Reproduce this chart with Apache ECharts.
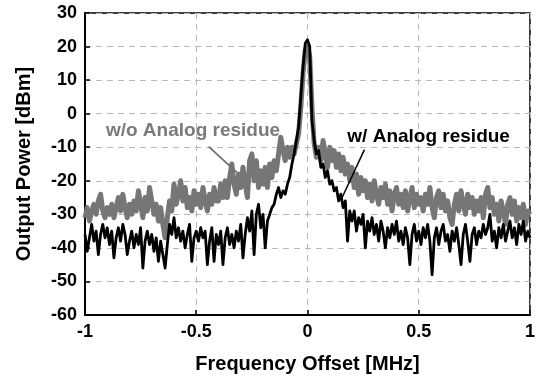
<!DOCTYPE html>
<html><head><meta charset="utf-8">
<script src="https://cdn.jsdelivr.net/npm/echarts/dist/echarts.min.js"></script>
<style>html,body{margin:0;padding:0;background:#fff}#c{width:538px;height:379px}</style>
</head><body><div id="c"></div>
<script>
// Frequency grid (MHz): -1 .. 1 in 0.01 steps
const freqStart = -1, freqStep = 0.01, freqCount = 201;

// Output power [dBm], "w/o Analog residue" (gray)
const withoutResidue = [
-31,-28,-32,-29,-27,-30,-26,-24,-29,-31,
-28,-30,-27,-31,-28,-25,-29,-24,-28,-31,
-27,-30,-26,-29,-23,-27,-31,-25,-29,-22,
-26,-30,-27,-32,-28,-33,-37,-31,-26,-29,
-21,-27,-24,-20,-26,-22,-28,-25,-29,-23,
-27,-24,-28,-22,-26,-29,-24,-27,-22,-26,
-26,-21,-25,-20,-25,-19,-15,-21,-24,-18,
-22,-16,-21,-25,-14,-12,-20,-14,-22,-17,
-21,-16,-22,-15,-19,-14,-17,-12,-7,-11,
-14,-10,-13,-10,-12,-9,-6,2,12,19,
20,17,2,-9,-13,-10,-14,-8,-12,-16,
-10,-14,-11,-16,-12,-17,-13,-18,-15,-20,
-16,-22,-18,-24,-19,-23,-20,-25,-21,-26,
-20,-24,-27,-22,-25,-21,-27,-23,-29,-24,
-22,-27,-24,-28,-23,-29,-25,-22,-28,-24,
-27,-25,-29,-24,-27,-22,-28,-31,-25,-23,
-28,-24,-29,-26,-31,-33,-27,-24,-29,-23,
-27,-30,-24,-28,-25,-30,-26,-29,-25,-31,
-24,-22,-28,-25,-30,-27,-32,-26,-29,-33,
-27,-25,-30,-26,-32,-28,-31,-27,-33,-29,
-30
];

// Output power [dBm], "w/ Analog residue" (black)
const withResidue = [
-36,-41,-37,-33,-38,-35,-42,-36,-33,-37,
-34,-39,-35,-43,-37,-34,-38,-33,-36,-42,
-38,-35,-40,-36,-39,-34,-46,-38,-35,-39,
-36,-41,-37,-44,-38,-42,-46,-39,-33,-36,
-31,-37,-34,-38,-35,-40,-36,-33,-44,-37,
-35,-38,-34,-37,-35,-45,-38,-34,-44,-36,
-39,-35,-45,-37,-34,-39,-36,-40,-35,-38,
-33,-43,-36,-31,-35,-29,-42,-30,-27,-34,
-30,-40,-32,-30,-28,-27,-24,-22,-25,-23,
-24,-21,-19,-15,-12,-8,-4,5,14,21,
22,20,-2,-8,-12,-11,-16,-15,-19,-17,
-21,-20,-23,-22,-26,-24,-28,-26,-38,-29,
-32,-29,-35,-31,-33,-30,-40,-32,-35,-31,
-36,-33,-38,-32,-35,-40,-34,-37,-33,-36,
-32,-38,-35,-39,-34,-37,-45,-36,-33,-38,
-35,-39,-34,-37,-33,-38,-48,-37,-34,-39,
-35,-33,-38,-36,-41,-35,-38,-34,-39,-45,
-36,-33,-38,-44,-36,-34,-39,-35,-37,-33,
-36,-34,-30,-38,-35,-40,-34,-37,-33,-38,
-35,-32,-37,-34,-39,-33,-36,-32,-38,-35,
-37
];

const seriesNames = ['w/o Analog residue', 'w/ Analog residue'];
const xAxisTitle = 'Frequency Offset [MHz]';
const yAxisTitle = 'Output Power [dBm]';

const freq = [];
for (let i = 0; i < freqCount; i++) freq.push(+(freqStart + i * freqStep).toFixed(2));
const pairs = arr => arr.map((v, i) => [freq[i], v]);

const FONT = '"Liberation Sans", Arial, sans-serif';
const chart = echarts.init(document.getElementById('c'), null, {renderer: 'canvas'});

const option = {
  animation: false,
  backgroundColor: '#fff',
  grid: {left: 85, right: 7, top: 13, bottom: 63, show: true, borderColor: '#000', borderWidth: 1.5, backgroundColor: 'transparent'},
  xAxis: {
    type: 'value', min: -1, max: 1, interval: 0.5,
    name: xAxisTitle, nameLocation: 'middle', nameGap: 39,
    nameTextStyle: {fontFamily: FONT, fontWeight: 'bold', fontSize: 20, color: '#000'},
    axisLine: {show: true, onZero: false, lineStyle: {color: '#000', width: 2}},
    axisTick: {show: true, inside: true, length: 5, lineStyle: {color: '#000', width: 1.5}},
    axisLabel: {fontFamily: FONT, fontWeight: 'bold', fontSize: 18, color: '#000', margin: 8},
    splitLine: {show: true, lineStyle: {color: '#b8b8b8', type: [6, 5], width: 1}}
  },
  yAxis: {
    type: 'value', min: -60, max: 30, interval: 10,
    name: yAxisTitle, nameLocation: 'middle', nameGap: 51, nameRotate: 90,
    nameTextStyle: {fontFamily: FONT, fontWeight: 'bold', fontSize: 20, color: '#000'},
    axisLine: {show: true, onZero: false, lineStyle: {color: '#000', width: 2}},
    axisTick: {show: true, inside: true, length: 5, lineStyle: {color: '#000', width: 1.5}},
    axisLabel: {fontFamily: FONT, fontWeight: 'bold', fontSize: 18, color: '#000', margin: 8},
    splitLine: {show: true, lineStyle: {color: '#b8b8b8', type: [6, 5], width: 1}}
  },
  series: [
    {
      name: seriesNames[0], type: 'line', data: pairs(withoutResidue),
      showSymbol: false, symbol: 'none', z: 2,
      lineStyle: {color: '#767676', width: 5, join: 'round'},
      markLine: {
        silent: true, symbol: ['none', 'arrow'], symbolSize: [0, 9],
        label: {show: false},
        lineStyle: {color: '#6e6e6e', width: 1.8, type: 'solid'},
        data: [[{coord: [-0.444, -9.8]}, {coord: [-0.318, -17.5]}]]
      }
    },
    {
      name: seriesNames[1], type: 'line', data: pairs(withResidue),
      showSymbol: false, symbol: 'none', z: 3,
      lineStyle: {color: '#000000', width: 2.8, join: 'round'},
      markLine: {
        silent: true, symbol: ['none', 'arrow'], symbolSize: [0, 9],
        label: {show: false},
        lineStyle: {color: '#000', width: 1.5, type: 'solid'},
        data: [[{coord: [0.256, -10.7]}, {coord: [0.152, -25.5]}]]
      }
    }
  ]
};
chart.setOption(option);

// Annotation texts anchored in data coordinates
const p1 = chart.convertToPixel({gridIndex: 0}, [-0.906, -5.0]);
const p2 = chart.convertToPixel({gridIndex: 0}, [0.179, -6.8]);
chart.setOption({
  graphic: [
    {type: 'text', x: p1[0], y: p1[1], z: 10,
     style: {text: seriesNames[0], fill: '#7a7a7a', font: 'bold 19px ' + FONT, textVerticalAlign: 'middle', verticalAlign: 'middle'}},
    {type: 'text', x: p2[0], y: p2[1], z: 10,
     style: {text: seriesNames[1], fill: '#000', font: 'bold 19px ' + FONT, textVerticalAlign: 'middle', verticalAlign: 'middle'}}
  ]
});
</script>
</body></html>
